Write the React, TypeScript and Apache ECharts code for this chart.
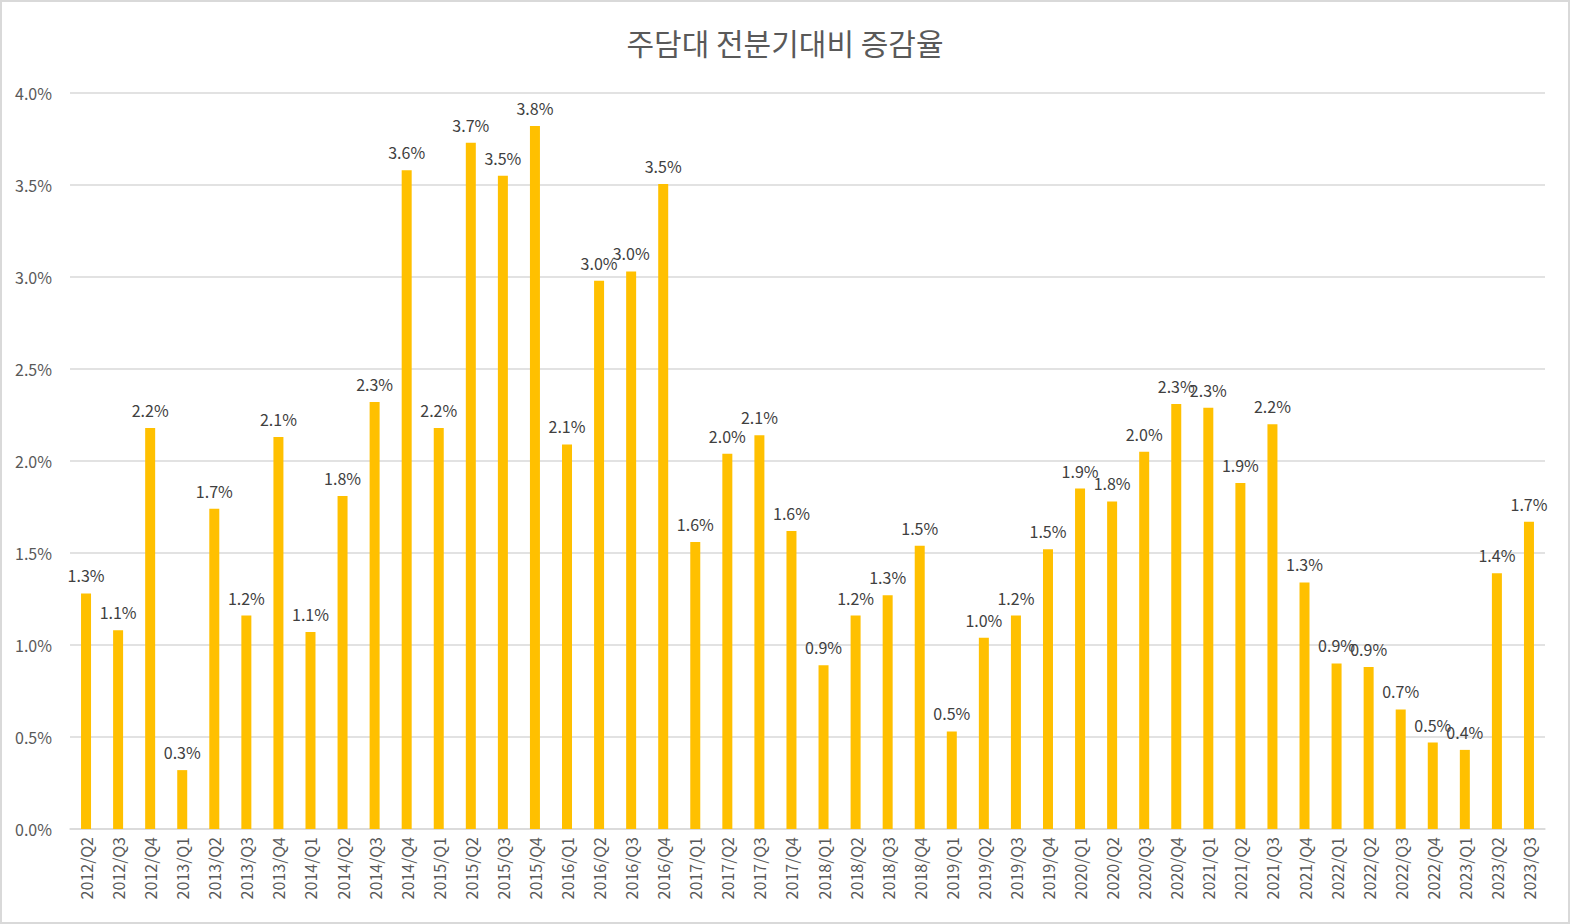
import React, { useEffect, useRef } from "react";
import * as echarts from "echarts";

const categories = [
  "2012/Q2", "2012/Q3", "2012/Q4",
  "2013/Q1", "2013/Q2", "2013/Q3", "2013/Q4",
  "2014/Q1", "2014/Q2", "2014/Q3", "2014/Q4",
  "2015/Q1", "2015/Q2", "2015/Q3", "2015/Q4",
  "2016/Q1", "2016/Q2", "2016/Q3", "2016/Q4",
  "2017/Q1", "2017/Q2", "2017/Q3", "2017/Q4",
  "2018/Q1", "2018/Q2", "2018/Q3", "2018/Q4",
  "2019/Q1", "2019/Q2", "2019/Q3", "2019/Q4",
  "2020/Q1", "2020/Q2", "2020/Q3", "2020/Q4",
  "2021/Q1", "2021/Q2", "2021/Q3", "2021/Q4",
  "2022/Q1", "2022/Q2", "2022/Q3", "2022/Q4",
  "2023/Q1", "2023/Q2", "2023/Q3",
];

// percent values
const growthRates = [
  1.28, 1.08, 2.18,
  0.32, 1.74, 1.16, 2.13,
  1.07, 1.81, 2.32, 3.58,
  2.18, 3.73, 3.55, 3.82,
  2.09, 2.98, 3.03, 3.505,
  1.56, 2.04, 2.14, 1.62,
  0.89, 1.16, 1.27, 1.54,
  0.53, 1.04, 1.16, 1.52,
  1.85, 1.78, 2.05, 2.31,
  2.29, 1.88, 2.2, 1.34,
  0.9, 0.88, 0.65, 0.47,
  0.43, 1.39, 1.67,
];

const title = "주담대 전분기대비 증감율";

export default function App() {
  const ref = useRef<HTMLDivElement>(null);
  useEffect(() => {
    document.body.style.margin = "0";
    const chart = echarts.init(ref.current!, null, { renderer: "svg" });
    const font = "'Noto Sans CJK KR', 'Noto Sans', sans-serif";
    chart.setOption({
      animation: false,
      backgroundColor: "#ffffff",
      title: {
        text: title,
        left: "center",
        top: 20,
        textStyle: { fontFamily: font, fontSize: 30, fontWeight: "normal", color: "#595959" },
      },
      grid: { left: 68, right: 23, top: 91, bottom: 93, containLabel: false },
      xAxis: {
        type: "category",
        data: categories,
        axisLine: { lineStyle: { color: "#d9d9d9", width: 1.5 } },
        axisTick: { show: false },
        axisLabel: {
          rotate: 90,
          interval: 0,
          margin: 8,
          fontFamily: font,
          fontSize: 16,
          color: "#595959",
        },
      },
      yAxis: {
        type: "value",
        min: 0,
        max: 4,
        interval: 0.5,
        axisLine: { show: false },
        axisTick: { show: false },
        splitLine: { lineStyle: { color: "#d9d9d9", width: 1.5 } },
        axisLabel: {
          margin: 18,
          fontFamily: font,
          fontSize: 16,
          color: "#595959",
          formatter: (v: number) => v.toFixed(1) + "%",
        },
      },
      series: [
        {
          type: "bar",
          data: growthRates,
          barWidth: 10,
          itemStyle: { color: "#FFC000" },
          label: {
            show: true,
            position: "top",
            distance: 10,
            fontFamily: font,
            fontSize: 16,
            color: "#404040",
            formatter: (p: any) => (p.value as number).toFixed(1) + "%",
          },
        },
      ],
    });
    return () => chart.dispose();
  }, []);
  return (
    <div
      style={{
        position: "fixed",
        left: 0,
        top: 0,
        width: 1570,
        height: 924,
        boxSizing: "border-box",
        border: "2px solid #d9d9d9",
        background: "#fff",
      }}
    >
      <div ref={ref} style={{ width: "100%", height: "100%" }} />
    </div>
  );
}
